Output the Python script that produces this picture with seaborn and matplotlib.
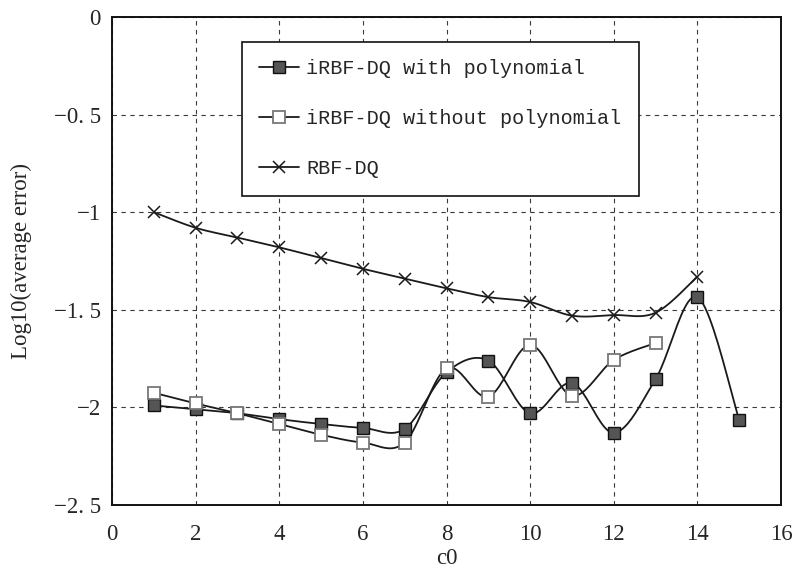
import matplotlib
matplotlib.use("Agg")
import matplotlib.pyplot as plt
from matplotlib.lines import Line2D
import numpy as np
import pandas as pd
import seaborn as sns

c0_poly = [1, 2, 3, 4, 5, 6, 7, 8, 9, 10, 11, 12, 13, 14, 15]
err_poly = [-1.99, -2.01, -2.03, -2.06, -2.085, -2.105, -2.11, -1.82,
            -1.76, -2.03, -1.875, -2.13, -1.855, -1.435, -2.065]

c0_nopoly = [1, 2, 3, 4, 5, 6, 7, 8, 9, 10, 11, 12, 13]
err_nopoly = [-1.925, -1.98, -2.03, -2.085, -2.14, -2.18, -2.18, -1.80,
              -1.945, -1.68, -1.94, -1.757, -1.67]

c0_rbf = [1, 2, 3, 4, 5, 6, 7, 8, 9, 10, 11, 12, 13, 14]
err_rbf = [-1.00, -1.08, -1.13, -1.18, -1.235, -1.29, -1.34, -1.39,
           -1.435, -1.46, -1.53, -1.527, -1.515, -1.33]

LABELS = ["iRBF-DQ with polynomial", "iRBF-DQ without polynomial", "RBF-DQ"]


def smooth(x, y, n=24):
    # excel-style smoothed line: cubic bezier with catmull-rom control points
    p = np.column_stack([x, y]).astype(float)
    pad = np.vstack([p[0], p, p[-1]])
    t = np.linspace(0, 1, n)[:, None]
    out = []
    for i in range(len(p) - 1):
        p0, p3 = pad[i + 1], pad[i + 2]
        p1 = p0 + (pad[i + 2] - pad[i]) / 6
        p2 = p3 - (pad[i + 3] - pad[i + 1]) / 6
        seg = ((1 - t) ** 3) * p0 + 3 * ((1 - t) ** 2) * t * p1 \
            + 3 * (1 - t) * t ** 2 * p2 + t ** 3 * p3
        out.append(seg if i == 0 else seg[1:])
    out = np.vstack(out)
    return pd.DataFrame({"x": out[:, 0], "y": out[:, 1]})


sns.set_style("white")
plt.rcParams["font.family"] = ["Liberation Serif", "DejaVu Serif"]
plt.rcParams["axes.unicode_minus"] = True

fig = plt.figure(figsize=(7.95, 5.74), dpi=100)
ax = fig.add_axes([0.1409, 0.1202, 0.8415, 0.8502])

line_c = "#1a1a1a"
series = [
    (c0_poly, err_poly, dict(marker="s", markersize=8.5, markerfacecolor="#555555",
                             markeredgecolor="#111111", markeredgewidth=1.0)),
    (c0_nopoly, err_nopoly, dict(marker="s", markersize=8.5, markerfacecolor="white",
                                 markeredgecolor="#777777", markeredgewidth=1.3)),
    (c0_rbf, err_rbf, dict(marker="x", markersize=9, markeredgecolor="#1a1a1a",
                           markeredgewidth=1.1)),
]

handles = []
for (x, y, mk), lab in zip(series, LABELS):
    sm = smooth(x, y)
    sns.lineplot(data=sm, x="x", y="y", sort=False, estimator=None,
                 color=line_c, linewidth=1.3, ax=ax, zorder=3)
    ax.plot(x, y, linestyle="none", zorder=4, **mk)
    handles.append(Line2D([0], [0], color=line_c, linewidth=1.3, label=lab, **mk))

ax.set_xlim(0, 16)
ax.set_ylim(-2.5, 0)
ax.set_xticks(np.arange(0, 17, 2))
ax.set_yticks([0, -0.5, -1, -1.5, -2, -2.5])
ax.set_yticklabels(["0", "\u22120. 5", "\u22121", "\u22121. 5", "\u22122", "\u22122. 5"])
ax.grid(True, color="#3a3a3a", linestyle=(0, (4, 4)), linewidth=0.8)
ax.tick_params(axis="both", direction="out", length=6, width=0.8,
               color="#555555", labelsize=16.5)
ax.tick_params(axis="x", pad=8)
ax.tick_params(axis="y", pad=2)
for s in ax.spines.values():
    s.set_color("#111111")
    s.set_linewidth(1.4)

ax.set_xlabel("c0", fontsize=16.5, labelpad=2)
ax.set_ylabel("Log10(average error)", fontsize=16.5, labelpad=16)

leg = ax.legend(handles=handles, loc="upper left", bbox_to_anchor=(0.194, 0.949),
                borderaxespad=0, frameon=True, fancybox=False, handlelength=2.0,
                labelspacing=1.55, borderpad=0.85, handletextpad=0.35,
                prop={"family": ["Liberation Mono", "DejaVu Sans Mono"], "size": 14.5})
leg.get_frame().set_edgecolor("#111111")
leg.get_frame().set_linewidth(1.2)
leg.get_frame().set_alpha(1)

fig.savefig("out.png", dpi=100)
